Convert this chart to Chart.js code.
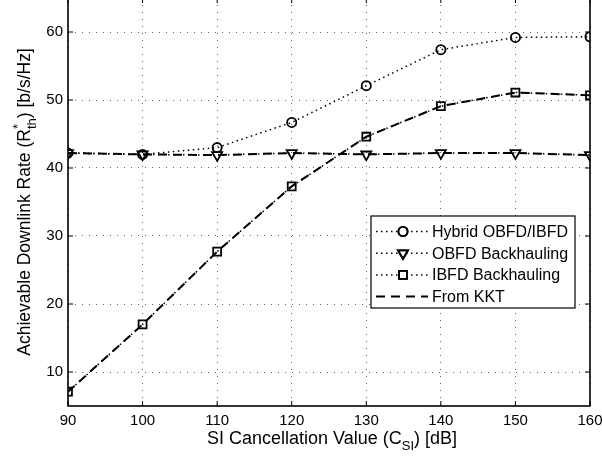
<!DOCTYPE html>
<html>
<head>
<meta charset="utf-8">
<script src="https://cdn.jsdelivr.net/npm/chart.js@4.4.0/dist/chart.umd.min.js"></script>
<style>
  html, body { margin: 0; padding: 0; background: #fff; overflow: hidden; }
  #wrap { position: absolute; left: 0; top: -2px; width: 602px; height: 459px; }
</style>
</head>
<body>
<div id="wrap"><canvas id="c"></canvas></div>
<script>
// values
const siCancellation = [90, 100, 110, 120, 130, 140, 150, 160];
const hybrid = [42.2, 42.0, 43.0, 46.7, 52.1, 57.4, 59.2, 59.3];
const obfd = [42.2, 42.0, 41.9, 42.2, 42.0, 42.2, 42.2, 41.9];
const ibfd = [7.1, 17.0, 27.7, 37.3, 44.6, 49.1, 51.1, 50.7];
const xTicks = [90, 100, 110, 120, 130, 140, 150, 160];
const yTicks = [10, 20, 30, 40, 50, 60];

const FONT = '"Liberation Sans", Arial, Helvetica, sans-serif';

const toPoints = (ys) => ys.map((y, i) => ({ x: siCancellation[i], y }));

const marker = (style, radius, rotation) => ({
    pointStyle: style,
    pointRadius: radius,
    pointRotation: rotation || 0,
    pointBorderWidth: 1.8,
    pointBorderColor: '#000',
    pointBackgroundColor: 'rgba(0,0,0,0)'
});

const datasets = [
    {
        label: 'Hybrid OBFD/IBFD',
        data: toPoints(hybrid),
        borderColor: '#000', borderWidth: 1.5, borderDash: [1.5, 3.5],
        ...marker('circle', 4.6)
    },
    {
        label: 'OBFD Backhauling',
        data: toPoints(obfd),
        borderColor: '#000', borderWidth: 1.5, borderDash: [1.5, 3.5],
        ...marker('triangle', 5.8, 180)
    },
    {
        label: 'IBFD Backhauling',
        data: toPoints(ibfd),
        borderColor: '#000', borderWidth: 1.5, borderDash: [1.5, 3.5],
        ...marker('rect', 5.6)
    },
    {
        label: 'From KKT',
        data: toPoints(obfd),
        borderColor: '#000', borderWidth: 2, borderDash: [9, 6],
        pointRadius: 0
    },
    {
        label: 'From KKT (IBFD)',
        hideInLegend: true,
        data: toPoints(ibfd),
        borderColor: '#000', borderWidth: 2, borderDash: [9, 6],
        pointRadius: 0
    }
];

// box with inward ticks, like the original plot
const framePlugin = {
    id: 'frame',
    afterDatasetsDraw(chart) {
        const { ctx, chartArea: a, scales } = chart;
        ctx.save();
        ctx.strokeStyle = '#000';
        ctx.lineWidth = 1.6;
        ctx.strokeRect(a.left, a.top, a.right - a.left, a.bottom - a.top);
        ctx.lineWidth = 1;
        ctx.beginPath();
        xTicks.forEach(v => {
            const x = scales.x.getPixelForValue(v);
            ctx.moveTo(x, a.bottom); ctx.lineTo(x, a.bottom - 5);
            ctx.moveTo(x, a.top); ctx.lineTo(x, a.top + 5);
        });
        yTicks.forEach(v => {
            const y = scales.y.getPixelForValue(v);
            ctx.moveTo(a.left, y); ctx.lineTo(a.left + 5, y);
            ctx.moveTo(a.right, y); ctx.lineTo(a.right - 5, y);
        });
        ctx.stroke();
        ctx.restore();
    }
};

// legend drawn by hand: line sample with marker in the middle
const legendPlugin = {
    id: 'mlegend',
    afterDraw(chart) {
        const { ctx, chartArea: a } = chart;
        const left = a.left + 303, right = a.right - 15;
        const top = a.top + 218, bottom = a.top + 310;
        ctx.save();
        ctx.fillStyle = '#fff';
        ctx.fillRect(left, top, right - left, bottom - top);
        ctx.strokeStyle = '#000';
        ctx.lineWidth = 1.2;
        ctx.strokeRect(left, top, right - left, bottom - top);

        const items = chart.data.datasets.filter(d => !d.hideInLegend);
        ctx.font = '16px ' + FONT;
        ctx.textBaseline = 'middle';
        items.forEach((d, i) => {
            const y = top + 15.5 + i * 21.7;
            ctx.strokeStyle = '#000';
            ctx.lineWidth = d.borderWidth;
            ctx.setLineDash(d.borderDash || []);
            ctx.beginPath();
            ctx.moveTo(left + 5, y);
            ctx.lineTo(left + 57, y);
            ctx.stroke();
            ctx.setLineDash([]);
            if (d.pointRadius > 0) {
                ctx.fillStyle = '#fff';
                ctx.lineWidth = d.pointBorderWidth;
                Chart.helpers.drawPoint(ctx, {
                    pointStyle: d.pointStyle,
                    radius: d.pointRadius,
                    rotation: d.pointRotation,
                    borderWidth: d.pointBorderWidth
                }, left + 32, y);
                ctx.stroke();
            }
            ctx.fillStyle = '#000';
            ctx.fillText(d.label, left + 61, y + 1);
        });
        ctx.restore();
    }
};

// axis titles with sub/superscripts
function drawRich(ctx, parts, size) {
    const small = Math.round(size * 0.72);
    const widthOf = (p) => {
        if (p.stack) {
            ctx.font = small + 'px ' + FONT;
            return Math.max(...p.stack.map(s => ctx.measureText(s.t).width));
        }
        ctx.font = (p.sub || p.sup ? small : size) + 'px ' + FONT;
        return ctx.measureText(p.t).width;
    };
    const total = parts.reduce((s, p) => s + widthOf(p), 0);
    let x = -total / 2;
    parts.forEach(p => {
        const w = widthOf(p);
        const list = p.stack || [p];
        list.forEach(s => {
            ctx.font = (s.sub || s.sup ? small : size) + 'px ' + FONT;
            const dy = s.sub ? size * 0.32 : (s.sup ? -size * 0.45 : 0);
            ctx.fillText(s.t, x, dy);
        });
        x += w;
    });
}

const titlesPlugin = {
    id: 'titles',
    afterDraw(chart) {
        const { ctx, chartArea: a } = chart;
        ctx.save();
        ctx.fillStyle = '#000';
        ctx.textBaseline = 'alphabetic';
        ctx.textAlign = 'left';
        ctx.save();
        ctx.translate(332, a.bottom + 38);
        drawRich(ctx, [
            { t: 'SI Cancellation Value (C' },
            { t: 'SI', sub: true },
            { t: ') [dB]' }
        ], 18);
        ctx.restore();
        ctx.save();
        ctx.translate(30, a.top + 204);
        ctx.rotate(-Math.PI / 2);
        drawRich(ctx, [
            { t: 'Achievable Downlink Rate (R' },
            { stack: [{ t: '*', sup: true }, { t: 'th', sub: true }] },
            { t: ') [b/s/Hz]' }
        ], 17.5);
        ctx.restore();
        ctx.restore();
    }
};

const gridOpts = { color: '#666', lineWidth: 1, drawTicks: false };

new Chart(document.getElementById('c'), {
    type: 'line',
    data: { datasets },
    options: {
        responsive: true,
        maintainAspectRatio: false,
        animation: false,
        layout: { autoPadding: false, padding: { left: 0, right: 12, top: 0, bottom: 0 } },
        elements: { line: { tension: 0 } },
        plugins: { legend: { display: false }, tooltip: { enabled: false } },
        scales: {
            x: {
                type: 'linear', min: 90, max: 160,
                afterBuildTicks: (s) => { s.ticks = xTicks.map(v => ({ value: v })); },
                afterFit: (s) => { s.height = 51; s.paddingLeft = 0; s.paddingRight = 0; },
                grid: gridOpts,
                border: { display: false, dash: [1, 6] },
                ticks: { color: '#000', font: { family: FONT, size: 15 }, padding: 6, maxRotation: 0 }
            },
            y: {
                type: 'linear', min: 5, max: 65,
                afterBuildTicks: (s) => { s.ticks = yTicks.map(v => ({ value: v })); },
                afterFit: (s) => { s.width = 68; s.paddingTop = 0; s.paddingBottom = 0; },
                grid: gridOpts,
                border: { display: false, dash: [1, 6] },
                ticks: { color: '#000', font: { family: FONT, size: 15 }, padding: 5 }
            }
        }
    },
    plugins: [framePlugin, legendPlugin, titlesPlugin]
});
</script>
</body>
</html>
